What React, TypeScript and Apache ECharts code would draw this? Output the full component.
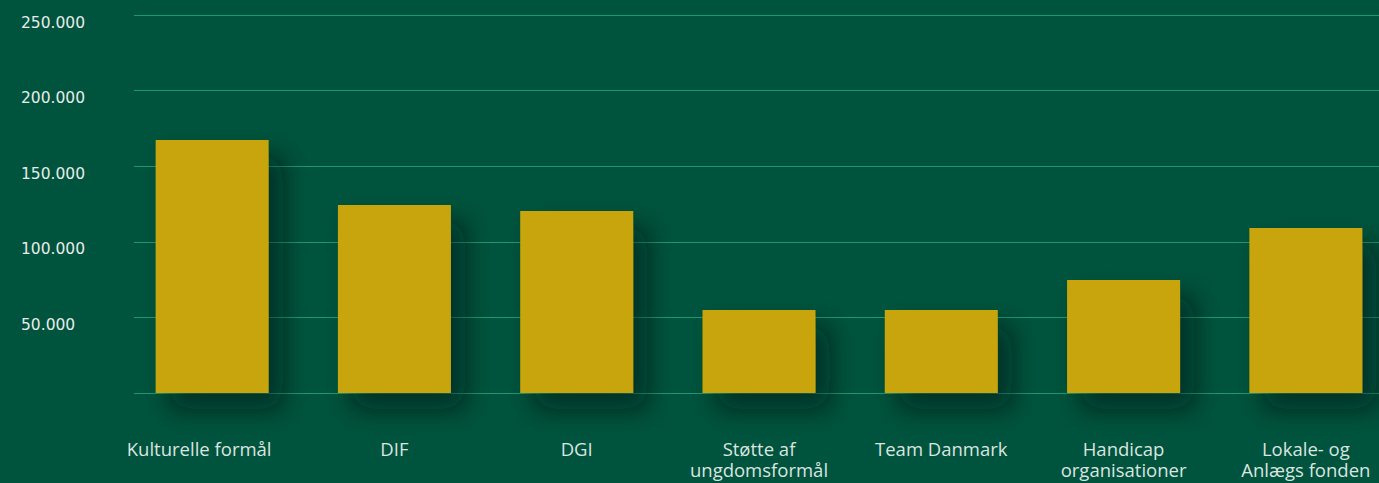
import React, { useEffect, useRef } from "react";
import * as echarts from "echarts";

const categories = [
  "Kulturelle formål",
  "DIF",
  "DGI",
  "Støtte af\nungdomsformål",
  "Team Danmark",
  "Handicap\norganisationer",
  "Lokale- og\nAnlægs fonden",
];
const values = [167300, 124300, 120400, 54900, 54900, 74700, 109100];
const yMin = 0;
const yMax = 250000;
const yInterval = 50000;

export default function App() {
  const ref = useRef<HTMLDivElement>(null);
  useEffect(() => {
    if (!ref.current) return;
    const chart = echarts.init(ref.current, null, { renderer: "svg" });
    const catData = categories.map((c, i) =>
      i === 0 ? { value: c, textStyle: { padding: [0, 26, 0, 0] } } : c
    );
    chart.setOption({
      animation: false,
      backgroundColor: "#00533c",
      grid: [
        { left: 121, top: 15, width: 1276, height: 378, outerBoundsMode: "none", containLabel: false },
        { left: 134, top: 15, right: 0, height: 378, outerBoundsMode: "none", containLabel: false },
      ],
      xAxis: [
        {
          type: "category",
          gridIndex: 0,
          data: catData,
          axisLine: { show: false },
          axisTick: { show: false },
          axisLabel: {
            margin: 45,
            color: "#dbe5e0",
            fontFamily: "Open Sans",
            fontWeight: 400,
            fontSize: 18.5,
            lineHeight: 21,
            interval: 0,
          },
        },
        { type: "value", gridIndex: 1, min: 0, max: 1, show: false },
      ],
      yAxis: [
        {
          type: "value",
          gridIndex: 0,
          min: yMin,
          max: yMax,
          interval: yInterval,
          axisLabel: { show: false },
          splitLine: { show: false },
          axisLine: { show: false },
          axisTick: { show: false },
        },
        {
          type: "value",
          gridIndex: 1,
          min: yMin,
          max: yMax,
          interval: yInterval,
          axisLine: { show: false },
          axisTick: { show: false },
          splitLine: { show: true, lineStyle: { color: "#1d9876", width: 1 } },
          axisLabel: {
            align: "left",
            verticalAlign: "top",
            margin: 113,
            lineHeight: 15,
            color: "#e6ece9",
            fontFamily: "DejaVu Sans",
            fontWeight: "normal",
            fontSize: 15.5,
            formatter: (v: number) =>
              v === 0 ? "" : `${Math.round(v / 1000)}.000`,
          },
        },
      ],
      series: [
        {
          type: "bar",
          xAxisIndex: 0,
          yAxisIndex: 0,
          data: values,
          barWidth: 113,
          itemStyle: {
            color: "#c9a50a",
            shadowColor: "rgba(0,20,10,0.55)",
            shadowBlur: 24,
            shadowOffsetX: 14,
            shadowOffsetY: 16,
          },
        },
      ],
    });
    return () => chart.dispose();
  }, []);
  return (
    <div
      ref={ref}
      style={{
        position: "absolute",
        left: 0,
        top: 0,
        width: 1379,
        height: 483,
        background: "#00533c",
      }}
    />
  );
}
